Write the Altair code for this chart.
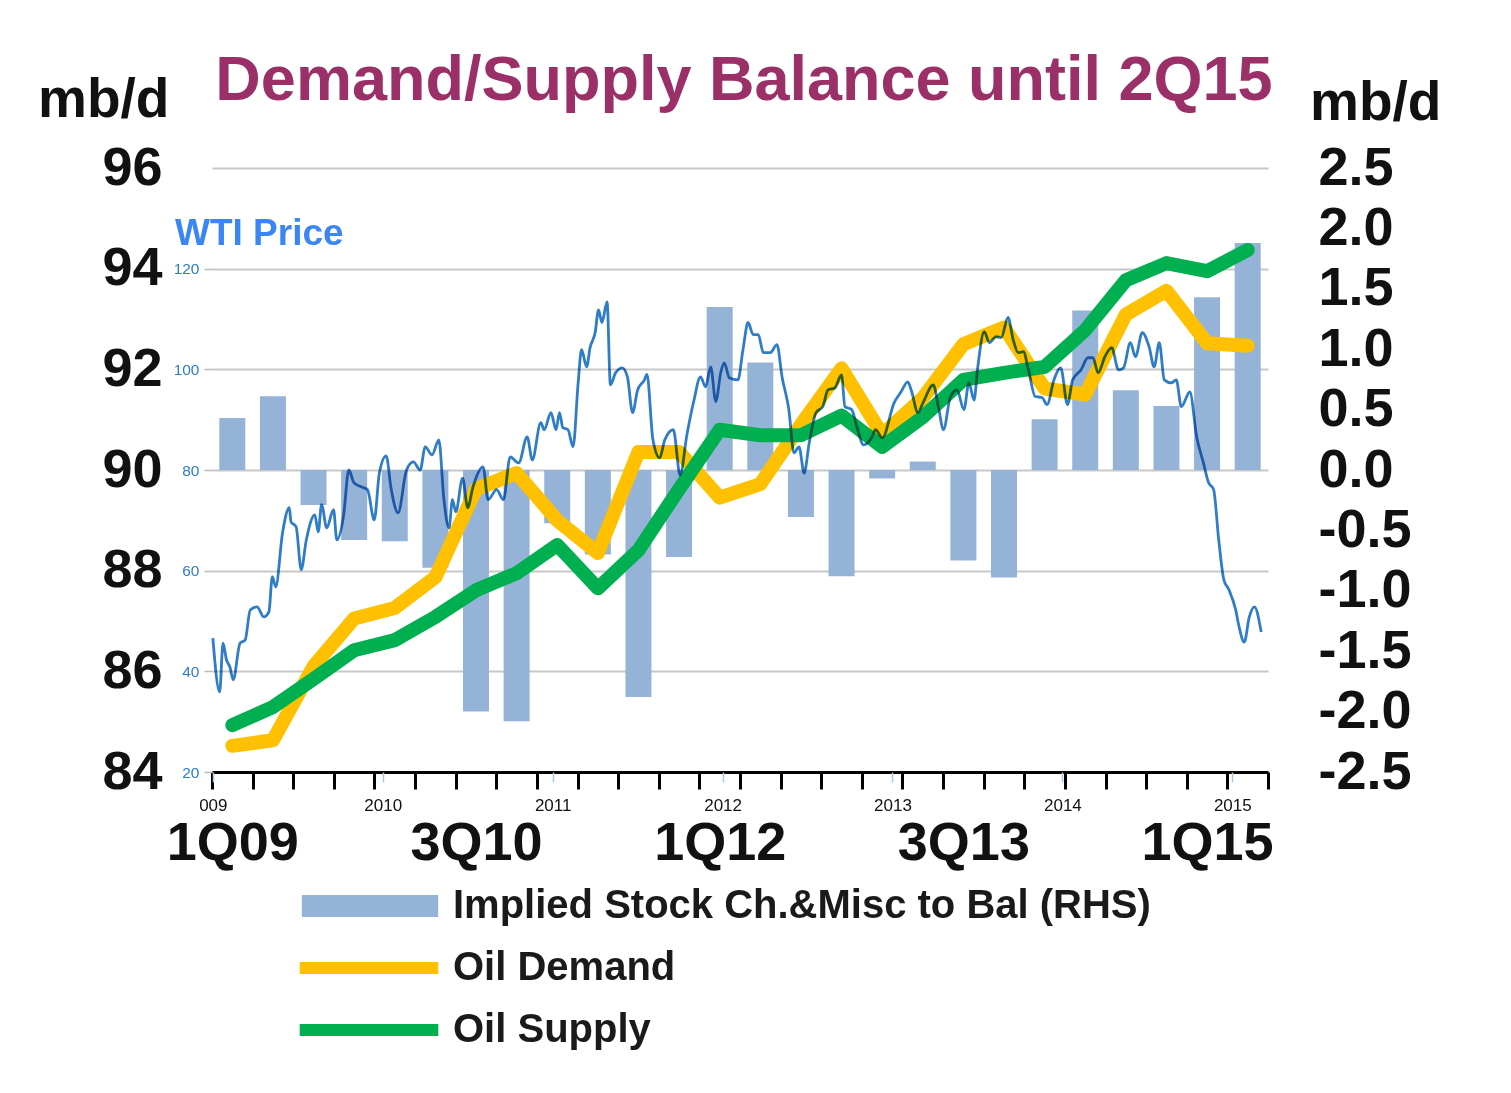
import altair as alt
import pandas as pd

FONT = "Liberation Sans"

quarters = ["1Q09", "2Q09", "3Q09", "4Q09", "1Q10", "2Q10", "3Q10", "4Q10",
            "1Q11", "2Q11", "3Q11", "4Q11", "1Q12", "2Q12", "3Q12", "4Q12",
            "1Q13", "2Q13", "3Q13", "4Q13", "1Q14", "2Q14", "3Q14", "4Q14",
            "1Q15", "2Q15"]
shown_quarters = ["1Q09", "3Q10", "1Q12", "3Q13", "1Q15"]

# Implied stock change & misc to balance (mb/d, right axis)
stock_change = [0.43, 0.61, -0.29, -0.58, -0.59, -0.81, -2.00, -2.08,
                -0.44, -0.70, -1.88, -0.72, 1.35, 0.89, -0.39, -0.88,
                -0.07, 0.07, -0.75, -0.89, 0.42, 1.32, 0.66, 0.53,
                1.43, 1.88]
# Oil demand / supply (mb/d, left axis)
oil_demand = [84.52, 84.63, 86.10, 87.05, 87.26, 87.87, 89.62, 89.94,
              89.00, 88.35, 90.36, 90.36, 89.45, 89.72, 90.90, 92.02,
              90.70, 91.43, 92.50, 92.83, 91.62, 91.50, 93.09, 93.56,
              92.52, 92.47]
oil_supply = [84.93, 85.29, 85.85, 86.42, 86.62, 87.08, 87.61, 87.95,
              88.51, 87.65, 88.41, 89.62, 90.80, 90.69, 90.69, 91.08,
              90.46, 91.05, 91.79, 91.93, 92.05, 92.78, 93.77, 94.11,
              93.95, 94.37]

# WTI price ($/bbl) against time in decimal years
wti_t = [2009.00, 2009.04, 2009.06, 2009.08, 2009.10, 2009.12, 2009.16, 2009.19,
         2009.22, 2009.26, 2009.30, 2009.33, 2009.35, 2009.37, 2009.41, 2009.45,
         2009.46, 2009.49, 2009.52, 2009.55, 2009.60, 2009.62, 2009.64, 2009.67,
         2009.71, 2009.73, 2009.77, 2009.80, 2009.83, 2009.87, 2009.91, 2009.95,
         2009.98, 2010.02, 2010.05, 2010.09, 2010.14, 2010.18, 2010.22, 2010.25,
         2010.29, 2010.33, 2010.36, 2010.39, 2010.41, 2010.43, 2010.47, 2010.50,
         2010.53, 2010.59, 2010.62, 2010.67, 2010.71, 2010.75, 2010.80, 2010.85,
         2010.88, 2010.93, 2010.95, 2010.99, 2011.02, 2011.04, 2011.06, 2011.09,
         2011.12, 2011.15, 2011.17, 2011.20, 2011.22, 2011.25, 2011.27, 2011.29,
         2011.32, 2011.34, 2011.37, 2011.41, 2011.44, 2011.47, 2011.50, 2011.54,
         2011.555, 2011.59, 2011.63, 2011.66, 2011.71, 2011.75, 2011.79, 2011.83,
         2011.87, 2011.90, 2011.93, 2011.96, 2011.99, 2012.01, 2012.04, 2012.09,
         2012.12, 2012.15, 2012.18, 2012.21, 2012.24, 2012.28, 2012.32, 2012.35,
         2012.39, 2012.42, 2012.45, 2012.48, 2012.51, 2012.55, 2012.59, 2012.62,
         2012.66, 2012.70, 2012.72, 2012.76, 2012.79, 2012.83, 2012.88, 2012.90,
         2012.94, 2013.01, 2013.05, 2013.09, 2013.11, 2013.15, 2013.18, 2013.24,
         2013.27, 2013.30, 2013.34, 2013.38, 2013.42, 2013.45, 2013.48, 2013.50,
         2013.54, 2013.57, 2013.61, 2013.64, 2013.68, 2013.71, 2013.74, 2013.77,
         2013.80, 2013.84, 2013.88, 2013.91, 2013.95, 2013.99, 2014.03, 2014.06,
         2014.11, 2014.15, 2014.18, 2014.21, 2014.25, 2014.29, 2014.33, 2014.36,
         2014.40, 2014.43, 2014.47, 2014.51, 2014.54, 2014.57, 2014.60, 2014.64,
         2014.67, 2014.70, 2014.75, 2014.79, 2014.83, 2014.86, 2014.89, 2014.92,
         2014.95, 2014.98, 2015.02, 2015.04, 2015.07, 2015.10, 2015.13, 2015.17]
wti_price = [46.6, 35.9, 45.6, 42.3, 40.9, 38.3, 45.6, 46.2,
             52.2, 52.8, 50.8, 51.8, 58.8, 56.8, 67.5, 72.5,
             69.7, 68.7, 60.2, 66.1, 71.1, 67.7, 73.1, 68.5,
             72.1, 66.1, 71.1, 80.0, 77.5, 76.7, 76.1, 70.1,
             79.4, 82.8, 76.1, 71.5, 80.0, 81.6, 80.0, 84.6,
             83.0, 86.0, 74.1, 68.5, 74.1, 71.7, 78.4, 72.5,
             76.5, 80.6, 74.1, 76.1, 74.1, 82.6, 81.4, 86.6,
             82.0, 89.4, 88.0, 91.4, 88.0, 91.4, 88.4, 88.0,
             84.6, 97.3, 103.9, 100.5, 104.3, 107.3, 111.8, 109.3,
             113.4, 96.9, 99.3, 100.3, 98.5, 91.4, 95.9, 97.9,
             99.0, 86.0, 82.4, 86.0, 88.0, 79.0, 87.0, 93.6,
             98.5, 96.5, 100.5, 93.6, 99.5, 101.3, 98.3, 97.9,
             103.9, 109.3, 106.9, 106.9, 103.3, 103.3, 104.9, 98.5,
             92.0, 83.4, 84.6, 79.4, 85.4, 91.4, 92.6, 95.9,
             96.3, 98.9, 92.6, 92.0, 88.6, 85.0, 86.6, 88.0,
             86.4, 93.4, 95.5, 97.5, 95.9, 91.4, 93.4, 96.9,
             92.6, 88.0, 94.4, 95.9, 92.0, 97.3, 93.9, 99.9,
             107.5, 105.3, 106.5, 106.3, 110.3, 105.9, 103.3, 103.5,
             99.9, 94.6, 94.4, 93.0, 97.9, 100.3, 93.0, 97.9,
             99.9, 102.3, 102.3, 99.3, 102.5, 104.3, 99.9, 100.3,
             105.3, 102.5, 107.3, 104.5, 100.5, 105.3, 97.9, 97.3,
             97.9, 92.6, 95.5, 86.6, 81.4, 77.5, 76.1, 66.1,
             58.2, 56.2, 52.2, 48.8, 45.8, 50.8, 52.8, 47.8]

BAR_NAME = "Implied Stock Ch.&Misc to Bal (RHS)"
DEMAND_NAME = "Oil Demand"
SUPPLY_NAME = "Oil Supply"
TITLE = "Demand/Supply Balance until 2Q15"

BAR_COLOR = "#95B3D7"
DEMAND_COLOR = "#FFC000"
SUPPLY_COLOR = "#00B050"
WTI_COLOR = "#2F7DC6"
TITLE_COLOR = "#9B3068"

df_bars = pd.DataFrame({"quarter": quarters, "stock": stock_change,
                        "series": [BAR_NAME] * len(quarters)})
df_lines = pd.concat([
    pd.DataFrame({"quarter": quarters, "value": oil_demand, "series": DEMAND_NAME}),
    pd.DataFrame({"quarter": quarters, "value": oil_supply, "series": SUPPLY_NAME}),
], ignore_index=True)
df_wti = pd.DataFrame({"t": wti_t, "price": wti_price})

W, H = 1056, 604

shown_expr = "indexof([" + ",".join("'%s'" % q for q in shown_quarters) + "], datum.value) >= 0 ? datum.value : ''"

x_quarter = alt.X(
    "quarter:O",
    scale=alt.Scale(domain=quarters, paddingInner=0, paddingOuter=0),
    axis=alt.Axis(
        title=None, orient="bottom", labelAngle=0, labelExpr=shown_expr,
        labelFont=FONT, labelFontSize=54, labelFontWeight="bold", labelColor="#111111",
        labelPadding=27, labelOverlap=False, tickBand="extent",
        tickColor="#000000", tickWidth=3, tickSize=17,
        domainColor="#000000", domainWidth=3, grid=False,
    ),
)

bars = alt.Chart(df_bars).mark_bar(width=alt.RelativeBandSize(0.64)).encode(
    x=x_quarter,
    y=alt.Y(
        "stock:Q",
        scale=alt.Scale(domain=[-2.5, 2.5], nice=False, zero=False),
        axis=alt.Axis(
            title=None, orient="right", values=[2.5, 2.0, 1.5, 1.0, 0.5, 0.0, -0.5, -1.0, -1.5, -2.0, -2.5],
            labelExpr="(datum.value < 0 ? '-' : '') + format(abs(datum.value), '.1f')",
            labelFont=FONT, labelFontSize=54, labelFontWeight="bold", labelColor="#111111",
            labelPadding=50, ticks=False, domain=False, grid=False,
        ),
    ),
    fill=alt.Fill(
        "series:N",
        scale=alt.Scale(domain=[BAR_NAME], range=[BAR_COLOR]),
        legend=alt.Legend(
            title=None, orient="none", legendX=138, legendY=718, padding=0,
            symbolType="M-6.2,-1L6.2,-1L6.2,1L-6.2,1Z", symbolSize=484,
            symbolStrokeWidth=0, symbolOpacity=1, labelOffset=63,
            labelFont=FONT, labelFontSize=40, labelFontWeight="bold", labelColor="#1a1a1a",
            labelLimit=1000,
        ),
    ),
)

lines = alt.Chart(df_lines).mark_line(strokeWidth=14, strokeCap="round", strokeJoin="round").encode(
    x=x_quarter,
    y=alt.Y(
        "value:Q",
        scale=alt.Scale(domain=[84, 96], nice=False, zero=False),
        axis=alt.Axis(
            title=None, orient="left", values=[84, 86, 88, 90, 92, 94, 96],
            labelFont=FONT, labelFontSize=54, labelFontWeight="bold", labelColor="#111111",
            labelPadding=50, ticks=False, domain=False,
            grid=True, gridColor="#c8c8c8", gridWidth=2,
        ),
    ),
    stroke=alt.Stroke(
        "series:N",
        scale=alt.Scale(domain=[DEMAND_NAME, SUPPLY_NAME], range=[DEMAND_COLOR, SUPPLY_COLOR]),
        legend=alt.Legend(
            title=None, orient="none", legendX=137, legendY=780, padding=0,
            symbolType="M-6.3,0L6.3,0", symbolSize=484, symbolStrokeWidth=12,
            symbolOpacity=1, labelOffset=64, rowPadding=14,
            labelFont=FONT, labelFontSize=40, labelFontWeight="bold", labelColor="#1a1a1a",
            labelLimit=1000,
        ),
    ),
)

wti = alt.Chart(df_wti).mark_line(
    strokeWidth=2.8, color=WTI_COLOR, interpolate="monotone", blend="multiply"
).encode(
    x=alt.X(
        "t:Q",
        scale=alt.Scale(domain=[2008.995, 2015.21], nice=False, zero=False),
        axis=alt.Axis(
            title=None, orient="bottom", values=[2009, 2010, 2011, 2012, 2013, 2014, 2015],
            labelExpr="datum.value == 2009 ? '009' : format(datum.value, 'd')",
            labelFont=FONT, labelFontSize=17, labelColor="#111111", labelFlush=False,
            labelPadding=15, tickSize=10, tickWidth=1.5, tickColor="#a9c8e8",
            domain=False, grid=False,
        ),
    ),
    y=alt.Y(
        "price:Q",
        scale=alt.Scale(domain=[20, 140], nice=False, zero=False),
        axis=alt.Axis(
            title=None, orient="left", values=[20, 40, 60, 80, 100, 120],
            labelFont=FONT, labelFontSize=15.5, labelColor="#2F7DC6",
            labelPadding=5, ticks=True, tickSize=8, tickWidth=1.5, tickColor="#bbbbbb",
            domain=False, grid=False,
        ),
    ),
)


def note(txt, x, y, size, color, weight="bold", align="left"):
    return alt.Chart(pd.DataFrame({"label": [txt]})).mark_text(
        font=FONT, fontSize=size, fontWeight=weight, color=color,
        align=align, baseline="alphabetic",
    ).encode(x=alt.value(x), y=alt.value(y), text="label:N")


title = note(TITLE, 532, -68, 63, TITLE_COLOR, align="center")
unit_left = note("mb/d", -174, -51, 55, "#111111")
unit_right = note("mb/d", 1098, -48, 55, "#111111")
wti_label = note("WTI Price", -37, 77, 37, "#3A86F2")

inner = alt.layer(bars, lines).resolve_scale(y="independent")

chart = alt.layer(inner, wti, title, unit_left, unit_right, wti_label).resolve_scale(
    x="independent", y="independent"
).properties(
    width=W, height=H,
    autosize=alt.AutoSizeParams(type="none"),
    padding={"left": 204, "top": 160, "right": 230, "bottom": 300},
    background="white",
).configure_view(strokeWidth=0)

chart.save("out.html", embed_options={"renderer": "svg", "actions": False})
